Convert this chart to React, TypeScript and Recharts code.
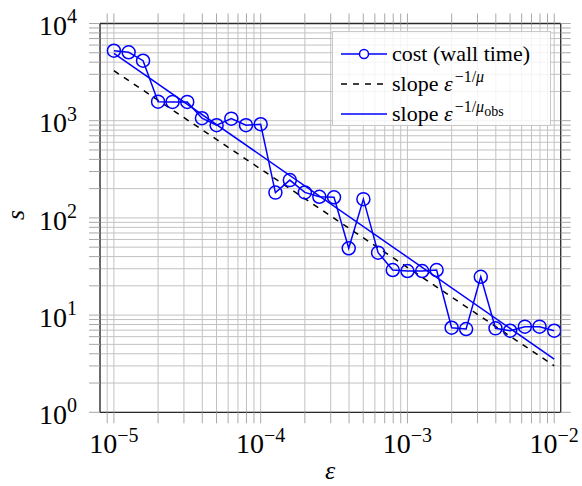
import React from "react";
import { CartesianGrid, Legend, Line, LineChart, XAxis, YAxis } from "recharts";

// tolerance values (x) and measured wall-time cost (y)
const epsilon = [
  1.0e-5, 1.26e-5, 1.58e-5, 2.0e-5, 2.51e-5, 3.16e-5, 3.98e-5, 5.01e-5, 6.31e-5, 7.94e-5,
  1.0e-4, 1.26e-4, 1.58e-4, 2.0e-4, 2.51e-4, 3.16e-4, 3.98e-4, 5.01e-4, 6.31e-4, 7.94e-4,
  1.0e-3, 1.26e-3, 1.58e-3, 2.0e-3, 2.51e-3, 3.16e-3, 3.98e-3, 5.01e-3, 6.31e-3, 7.94e-3,
  1.0e-2,
];
const cost = [
  5250, 5060, 4140, 1570, 1560, 1560, 1060, 900, 1050, 900,
  920, 182, 245, 183, 165, 163, 48.7, 156, 43.9, 29.1,
  28.4, 28.4, 29.1, 7.42, 7.19, 24.8, 7.31, 6.91, 7.6, 7.6,
  6.91,
];

// reference slopes, two end points each
const slopeEps = [1.0e-5, 1.0e-2];
const slopeMu = [3270, 3.01];
const slopeObs = [4935, 3.53];

const xMajor = [1e-5, 1e-4, 1e-3, 1e-2];
const xExponents = ["−5", "−4", "−3", "−2"];
const xMinor = [
  9e-6,
  2e-5, 3e-5, 4e-5, 5e-5, 6e-5, 7e-5, 8e-5, 9e-5,
  2e-4, 3e-4, 4e-4, 5e-4, 6e-4, 7e-4, 8e-4, 9e-4,
  2e-3, 3e-3, 4e-3, 5e-3, 6e-3, 7e-3, 8e-3, 9e-3,
];
const yMajor = [1, 10, 100, 1000, 10000];
const yExponents = ["0", "1", "2", "3", "4"];
const yMinor = [
  2, 3, 4, 5, 6, 7, 8, 9,
  20, 30, 40, 50, 60, 70, 80, 90,
  200, 300, 400, 500, 600, 700, 800, 900,
  2000, 3000, 4000, 5000, 6000, 7000, 8000, 9000,
];

const xDomain = [8.04e-6, 1.107e-2];
const yDomain = [1, 10000];

const costData = epsilon.map((e, i) => ({ eps: e, cost: cost[i] }));
const slopeData = slopeEps.map((e, i) => ({ eps: e, mu: slopeMu[i], obs: slopeObs[i] }));

const xTicks = [...xMajor, ...xMinor].sort((a, b) => a - b);
const yTicks = [...yMajor, ...yMinor].sort((a, b) => a - b);

const FONT = "'Liberation Serif', 'Times New Roman', serif";
const BLUE = "#0000ff";
const GRID = "#c2c2c2";
const FRAME = "#2a2a2a";

const XTick = (props: any) => {
  const { x, y, payload } = props;
  const idx = xMajor.indexOf(payload.value);
  if (idx < 0) return <g />;
  return (
    <text x={x} y={y + 28} textAnchor="middle" fontFamily={FONT} fontSize={28} fill="#000">
      <tspan>10</tspan>
      <tspan dy={-11.5} fontSize={20}>{xExponents[idx]}</tspan>
    </text>
  );
};

const YTick = (props: any) => {
  const { x, y, payload } = props;
  const idx = yMajor.indexOf(payload.value);
  if (idx < 0) return <g />;
  return (
    <text x={x - 10} y={y + 11.6} textAnchor="end" fontFamily={FONT} fontSize={28} fill="#000">
      <tspan>10</tspan>
      <tspan dy={-11.6} fontSize={20}>{yExponents[idx]}</tspan>
    </text>
  );
};

const Empty = () => <g />;

function LegendBox() {
  const row = (top: number, sample: React.ReactNode, label: React.ReactNode) => (
    <div style={{ position: "absolute", left: 0, top, height: 30, width: "100%" }}>
      <svg width={56} height={30} style={{ position: "absolute", left: 0, top: 0 }}>
        {sample}
      </svg>
      <div
        style={{
          position: "absolute",
          left: 59,
          top: 2,
          fontFamily: FONT,
          fontSize: 22,
          lineHeight: "26px",
          whiteSpace: "nowrap",
          color: "#000",
        }}
      >
        {label}
      </div>
    </div>
  );
  const sup = { fontSize: 16, verticalAlign: "9px", lineHeight: 0, marginLeft: 2 } as const;
  return (
    <div
      style={{
        position: "relative",
        width: 219,
        height: 95,
        boxSizing: "border-box",
        border: "1px solid #c8c8c8",
        background: "rgba(255,255,255,0.82)",
      }}
    >
      {row(
        7,
        <g>
          <line x1={8} x2={54} y1={15} y2={15} stroke={BLUE} strokeWidth={1.5} />
          <circle cx={31} cy={15} r={4.5} fill="#fff" stroke={BLUE} strokeWidth={1.5} />
        </g>,
        <span>cost (wall time)</span>
      )}
      {row(
        37,
        <line x1={8} x2={54} y1={15} y2={15} stroke="#000" strokeWidth={1.5} strokeDasharray="6 6" />,
        <span>
          slope <i>ε</i>
          <span style={sup}>
            −1/<i>μ</i>
          </span>
        </span>
      )}
      {row(
        67,
        <line x1={8} x2={54} y1={15} y2={15} stroke={BLUE} strokeWidth={1.5} />,
        <span>
          slope <i>ε</i>
          <span style={sup}>
            −1/<i>μ</i>
            <span style={{ fontSize: 14, verticalAlign: "-4px" }}>obs</span>
          </span>
        </span>
      )}
    </div>
  );
}

export default function App() {
  return (
    <div style={{ position: "absolute", left: 0, top: 0, background: "#fff" }}>
      <LineChart width={582} height={486} margin={{ top: 0, right: 0, bottom: 0, left: 0 }}>
        <CartesianGrid stroke={GRID} strokeWidth={1} />
        <XAxis
          dataKey="eps"
          type="number"
          scale="log"
          domain={xDomain}
          allowDataOverflow
          ticks={xTicks}
          interval={0}
          height={73.7}
          tickSize={11}
          tickLine={{ stroke: "#a8a8a8" }}
          axisLine={{ stroke: FRAME, strokeWidth: 1.3 }}
          tick={XTick}
          label={{
            content: () => (
              <text x={330} y={479} textAnchor="middle" fontFamily={FONT} fontStyle="italic" fontSize={26} fill="#000">
                ε
              </text>
            ),
          }}
        />
        <XAxis
          xAxisId="top"
          orientation="top"
          dataKey="eps"
          type="number"
          scale="log"
          domain={xDomain}
          allowDataOverflow
          ticks={xTicks}
          interval={0}
          height={23.5}
          tickSize={10}
          tickLine={{ stroke: "#a8a8a8" }}
          axisLine={{ stroke: FRAME, strokeWidth: 1.3 }}
          tick={Empty}
        />
        <YAxis
          type="number"
          scale="log"
          domain={yDomain}
          allowDataOverflow
          ticks={yTicks}
          interval={0}
          width={100}
          tickSize={11}
          tickLine={{ stroke: "#a8a8a8" }}
          axisLine={{ stroke: FRAME, strokeWidth: 1.3 }}
          tick={YTick}
          label={{
            content: () => (
              <text
                x={24}
                y={215}
                textAnchor="middle"
                fontFamily={FONT}
                fontStyle="italic"
                fontSize={26}
                fill="#000"
                transform="rotate(-90 24 215)"
              >
                s
              </text>
            ),
          }}
        />
        <YAxis
          yAxisId="right"
          orientation="right"
          type="number"
          scale="log"
          domain={yDomain}
          allowDataOverflow
          ticks={yTicks}
          interval={0}
          width={21.3}
          tickSize={10}
          tickLine={{ stroke: "#a8a8a8" }}
          axisLine={{ stroke: FRAME, strokeWidth: 1.3 }}
          tick={Empty}
        />
        <Line
          data={slopeData}
          dataKey="mu"
          stroke="#000"
          strokeWidth={1.5}
          strokeDasharray="6 6"
          dot={false}
          isAnimationActive={false}
        />
        <Line
          data={slopeData}
          dataKey="obs"
          stroke={BLUE}
          strokeWidth={1.5}
          dot={false}
          isAnimationActive={false}
        />
        <Line
          data={costData}
          dataKey="cost"
          stroke={BLUE}
          strokeWidth={1.5}
          dot={{ r: 6.5, stroke: BLUE, strokeWidth: 1.5, fill: "none" }}
          isAnimationActive={false}
        />
        <Legend
          layout="vertical"
          align="center"
          verticalAlign="middle"
          wrapperStyle={{ left: 332, top: 31, width: 219, height: 95 }}
          content={() => <LegendBox />}
        />
      </LineChart>
    </div>
  );
}
